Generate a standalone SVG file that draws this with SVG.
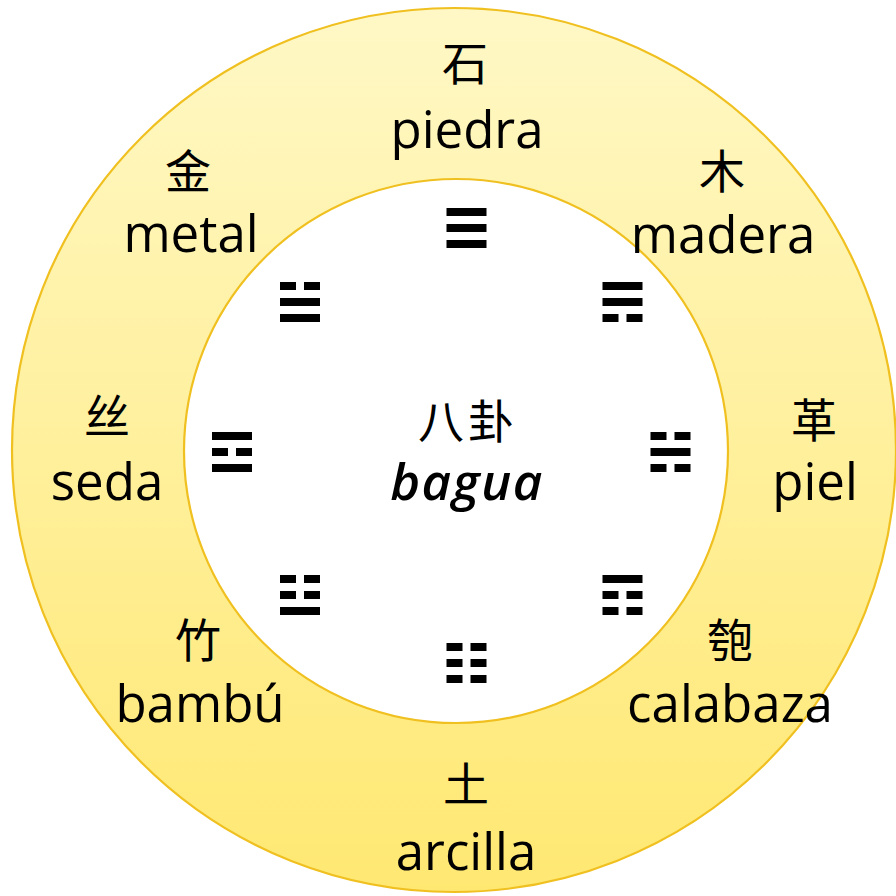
<svg xmlns="http://www.w3.org/2000/svg" width="896" height="896" viewBox="0 0 896 896">
<defs>
<linearGradient id="ring" x1="0" y1="0" x2="0" y2="1">
<stop offset="0" stop-color="#fff8c6"/>
<stop offset="1" stop-color="#ffe872"/>
</linearGradient>
<rect id="s" width="40" height="8" fill="#000"/>
<g id="b"><rect width="16" height="8" fill="#000"/><rect x="24" width="16" height="8" fill="#000"/></g>
</defs>
<style>
.lat{font-family:"Open Sans","Noto Sans",sans-serif;font-size:51px;fill:#000;text-anchor:middle}
.cjk{font-family:"Noto Sans CJK SC","Noto Sans CJK TC",sans-serif;font-size:46px;fill:#000;text-anchor:middle}
.ring{fill:url(#ring);stroke:#f0c020;stroke-width:2.2}
.inner{fill:#fff;stroke:#f0c020;stroke-width:2.2}
</style>
<rect width="896" height="896" fill="#fff"/>
<g id="rings">
<circle class="ring" cx="454" cy="450" r="442"/>
<circle class="inner" cx="456" cy="451" r="272"/>
</g>
<g id="trigrams">
<g id="t-top" transform="translate(446.5,208)"><use href="#s"/><use href="#s" y="16"/><use href="#s" y="32"/></g>
<g id="t-tr" transform="translate(602.5,282)"><use href="#s"/><use href="#s" y="16"/><use href="#b" y="32"/></g>
<g id="t-r" transform="translate(650.5,432)"><use href="#b"/><use href="#s" y="16"/><use href="#b" y="32"/></g>
<g id="t-br" transform="translate(602.5,575)"><use href="#s"/><use href="#b" y="16"/><use href="#b" y="32"/></g>
<g id="t-bot" transform="translate(446.5,643)"><use href="#b"/><use href="#b" y="16"/><use href="#b" y="32"/></g>
<g id="t-bl" transform="translate(280,575)"><use href="#b"/><use href="#b" y="16"/><use href="#s" y="32"/></g>
<g id="t-l" transform="translate(212,432)"><use href="#s"/><use href="#b" y="16"/><use href="#s" y="32"/></g>
<g id="t-tl" transform="translate(280,282)"><use href="#b"/><use href="#s" y="16"/><use href="#s" y="32"/></g>
</g>
<g id="center"><text class="cjk" x="468" y="438" font-size="54" letter-spacing="4">八卦</text><text class="lat" x="467" y="500" font-size="59" font-style="italic" font-weight="600" letter-spacing="1.5">bagua</text></g>
<g id="piedra"><text class="cjk" x="465" y="80">石</text><text class="lat" x="467" y="148">piedra</text></g>
<g id="madera"><text class="cjk" x="722" y="188">木</text><text class="lat" x="723" y="253">madera</text></g>
<g id="piel"><text class="cjk" x="814" y="437">革</text><text class="lat" x="815" y="500">piel</text></g>
<g id="calabaza"><text class="cjk" x="730" y="657">匏</text><text class="lat" x="730" y="722">calabaza</text></g>
<g id="arcilla"><text class="cjk" x="466" y="801">土</text><text class="lat" x="466" y="870">arcilla</text></g>
<g id="bambu"><text class="cjk" x="198" y="657">竹</text><text class="lat" x="200" y="722">bambú</text></g>
<g id="seda"><text class="cjk" x="107" y="433">丝</text><text class="lat" x="107" y="500">seda</text></g>
<g id="metal"><text class="cjk" x="188" y="188">金</text><text class="lat" x="191" y="252">metal</text></g>
</svg>
